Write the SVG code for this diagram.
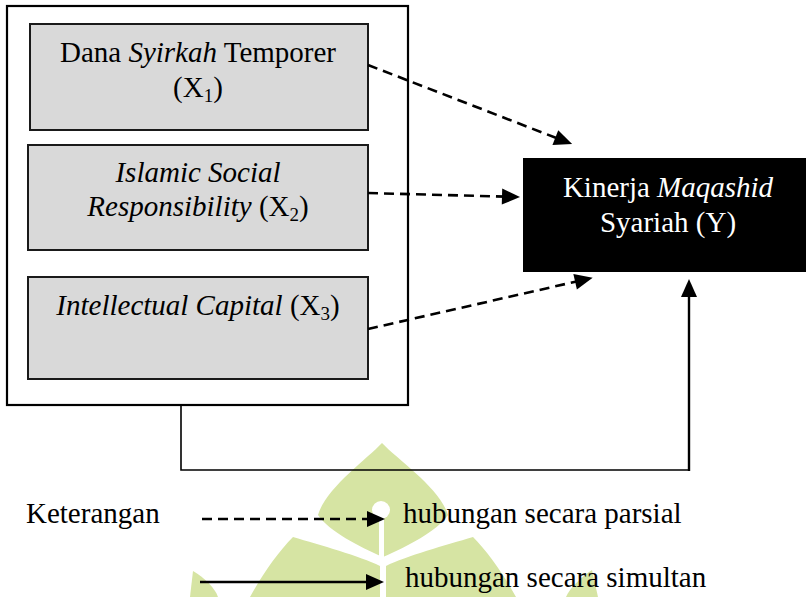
<svg xmlns="http://www.w3.org/2000/svg" width="806" height="597" viewBox="0 0 806 597">
  <defs>
    <marker id="ah" markerUnits="userSpaceOnUse" markerWidth="20" markerHeight="18" refX="5" refY="8" orient="auto" overflow="visible">
      <path d="M0,0 L18,8 L0,16 Z" fill="#000"/>
    </marker>
    <style>
      text { font-family: "Liberation Serif", "Times New Roman", serif; font-size: 29px; fill: #000; }
      .it { font-style: italic; }
      .sub { font-size: 19px; }
      .node rect.var { fill: #d9d9d9; stroke: #1a1a1a; stroke-width: 2; }
      .dash { fill: none; stroke: #000; stroke-width: 2.6; stroke-dasharray: 10 6; marker-end: url(#ah); }
      .solid { fill: none; stroke: #000; stroke-width: 2.4; }
      .wm { fill: #d6e4a3; }
    </style>
  </defs>

  <rect width="806" height="597" fill="#fff"/>

  <g id="watermark">
    <path class="wm" d="M382,443 C398,460 440,488 448,515 C436,532 408,546 383,557 C358,546 330,532 318,515 C326,488 366,460 382,443 Z"/>
    <path class="wm" d="M293,537 C320,545 360,556 380,566 L380,597 L250,597 C262,575 278,552 293,537 Z"/>
    <path class="wm" d="M473,537 C446,545 406,556 386,566 L386,597 L516,597 C504,575 488,552 473,537 Z"/>
    <path class="wm" d="M193,571 C205,578 215,588 218,597 L190,597 Z"/>
    <path class="wm" d="M592,570 C580,578 570,588 566,597 L598,597 Z"/>
    <circle cx="381" cy="510" r="9" fill="#fff"/>
    <rect x="379" y="510" width="5" height="54" fill="#fff"/>
  </g>

  <g id="outer-box">
    <rect x="7" y="6" width="401" height="399" fill="none" stroke="#000" stroke-width="2.2"/>
  </g>

  <g id="x1" class="node">
    <rect class="var" x="30" y="24" width="338" height="106"/>
    <text x="198" y="62" text-anchor="middle">Dana <tspan class="it">Syirkah</tspan> Temporer</text>
    <text x="198" y="97" text-anchor="middle">(X<tspan class="sub" dy="5">1</tspan><tspan dy="-5">)</tspan></text>
  </g>

  <g id="x2" class="node">
    <rect class="var" x="28" y="145" width="340" height="105"/>
    <text x="198" y="182" text-anchor="middle" class="it">Islamic Social</text>
    <text x="198" y="216" text-anchor="middle"><tspan class="it">Responsibility</tspan> (X<tspan class="sub" dy="5">2</tspan><tspan dy="-5">)</tspan></text>
  </g>

  <g id="x3" class="node">
    <rect class="var" x="28" y="277" width="340" height="102"/>
    <text x="198" y="315" text-anchor="middle"><tspan class="it">Intellectual Capital</tspan> (X<tspan class="sub" dy="5">3</tspan><tspan dy="-5">)</tspan></text>
  </g>

  <g id="y" class="node">
    <rect x="523" y="158" width="283" height="114" fill="#000"/>
    <text x="668" y="197" text-anchor="middle" style="fill:#fff">Kinerja <tspan class="it">Maqashid</tspan></text>
    <text x="668" y="232" text-anchor="middle" style="fill:#fff">Syariah (Y)</text>
  </g>

  <g id="connectors">
    <line class="dash" x1="368" y1="65" x2="560" y2="139.4"/>
    <line class="dash" x1="368" y1="193" x2="507" y2="196.7"/>
    <line class="dash" x1="368" y1="329" x2="580" y2="280.7"/>
    <path d="M181,405 L181,470 L689,470" fill="none" stroke="#000" stroke-width="1.6"/>
    <path class="solid" d="M689,471 L689,292" marker-end="url(#ah)"/>
  </g>

  <g id="legend">
    <text x="26" y="523">Keterangan</text>
    <line class="dash" x1="202" y1="519" x2="372" y2="519"/>
    <text x="403" y="523">hubungan secara parsial</text>
    <line class="solid" x1="200" y1="582" x2="371" y2="582" marker-end="url(#ah)"/>
    <text x="405" y="587">hubungan secara simultan</text>
  </g>
</svg>
